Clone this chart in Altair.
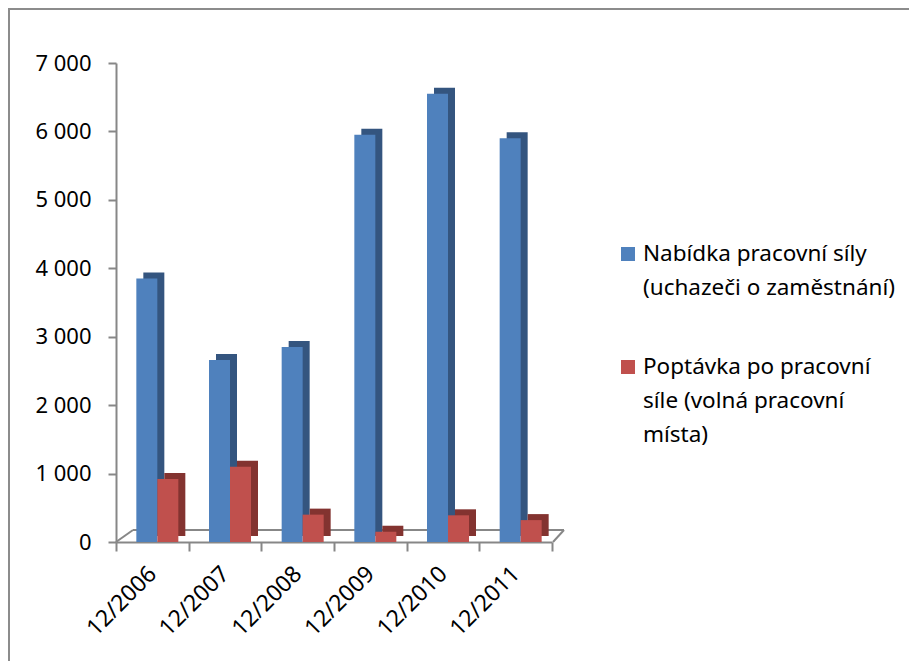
import altair as alt
import pandas as pd

# ---- data ----
categories = ["12/2006", "12/2007", "12/2008", "12/2009", "12/2010", "12/2011"]
nabidka = [3850, 2660, 2850, 5950, 6550, 5900]
poptavka = [920, 1100, 400, 150, 390, 320]
series = ["Nabídka pracovní síly|(uchazeči o zaměstnání)",
          "Poptávka po pracovní|síle (volná pracovní|místa)"]
y_ticks = [0, 1000, 2000, 3000, 4000, 5000, 6000, 7000]

rows = []
for c, a, b in zip(categories, nabidka, poptavka):
    rows.append({"cat": c, "series": "nab", "value": a})
    rows.append({"cat": c, "series": "pop", "value": b})
df = pd.DataFrame(rows)
one = pd.DataFrame({"k": [0]})

W, H = 436, 479
FONT = "Noto Sans"
GRAY = "#878787"
BLUE, BLUE_D, BLUE_T = "#4F81BD", "#34557F", "#3E6EA8"
RED, RED_D, RED_T = "#C0504D", "#833330", "#9E3B38"

x_enc = alt.X(
    "cat:N", sort=categories, title=None,
    scale=alt.Scale(paddingInner=0, paddingOuter=0),
    axis=alt.Axis(
        labelAngle=-45, labelAlign="right", labelBaseline="middle",
        labelFont=FONT, labelFontSize=23, labelColor="#000000",
        labelPadding=19, tickBand="extent", tickSize=9, tickWidth=2,
        tickColor=GRAY, domainColor=GRAY, domainWidth=2, grid=False,
    ),
)

y_enc = alt.Y(
    "value:Q", title=None,
    scale=alt.Scale(domain=[0, 7000], nice=False),
    axis=alt.Axis(
        values=y_ticks, labelExpr="replace(format(datum.value, ',d'), ',', ' ')",
        labelFont=FONT, labelFontSize=22, labelColor="#000000",
        labelPadding=17, tickSize=8, tickWidth=2, tickColor=GRAY,
        domainColor=GRAY, domainWidth=2, grid=False,
    ),
)

base = alt.Chart(df)
deco = alt.Chart(one)

frame = deco.mark_rect(fillOpacity=0, stroke="#8C8C8C", strokeWidth=2).encode(
    x=alt.value(-107), x2=alt.value(900), y=alt.value(-54), y2=alt.value(700)
)

floor_back = deco.mark_rule(color=GRAY, strokeWidth=2).encode(
    x=alt.value(17), x2=alt.value(448), y=alt.value(467), y2=alt.value(467)
)
floor_left = deco.mark_rule(color=GRAY, strokeWidth=2).encode(
    x=alt.value(0), x2=alt.value(17), y=alt.value(479), y2=alt.value(467)
)
floor_right = deco.mark_rule(color=GRAY, strokeWidth=2).encode(
    x=alt.value(437), x2=alt.value(448), y=alt.value(479), y2=alt.value(467)
)

nab = base.transform_filter(alt.datum.series == "nab")
pop = base.transform_filter(alt.datum.series == "pop")

blue_side = nab.mark_bar(color=BLUE_D, width=21, xOffset=1.5, yOffset=-6).encode(x=x_enc, y=y_enc)
blue_top = nab.mark_bar(color=BLUE_T, width=21, xOffset=-2.5, yOffset=-5, height=6).encode(x=x_enc, y=y_enc)
blue_front = nab.mark_bar(color=BLUE, width=21, xOffset=-5.5).encode(x=x_enc, y=y_enc)
red_side = pop.mark_bar(color=RED_D, width=21, xOffset=22.5, yOffset=-6).encode(x=x_enc, y=y_enc)
red_front = pop.mark_bar(color=RED, width=21, xOffset=15.5).encode(x=x_enc, y=y_enc)

leg_sq1 = deco.mark_square(size=196, color=BLUE, opacity=1).encode(x=alt.value(512), y=alt.value(191))
leg_sq2 = deco.mark_square(size=196, color=RED, opacity=1).encode(x=alt.value(512), y=alt.value(304))
leg_t1 = deco.mark_text(
    text=series[0], lineBreak="|", lineHeight=34, align="left", baseline="alphabetic",
    font=FONT, fontSize=22.5, color="#000000",
).encode(x=alt.value(527), y=alt.value(198))
leg_t2 = deco.mark_text(
    text=series[1], lineBreak="|", lineHeight=34, align="left", baseline="alphabetic",
    font=FONT, fontSize=22.5, color="#000000",
).encode(x=alt.value(527), y=alt.value(311))

chart = alt.layer(
    frame, floor_back, floor_left, floor_right,
    blue_side, blue_front, red_side, red_front,
    leg_sq1, leg_sq2, leg_t1, leg_t2,
).properties(
    width=W, height=H,
    autosize=alt.AutoSizeParams(type="none"),
    padding={"left": 108, "top": 55, "right": 357, "bottom": 119},
).configure(background="white", view=alt.ViewConfig(stroke=None))

chart.save("out.html", embed_options={"renderer": "svg", "actions": False})
